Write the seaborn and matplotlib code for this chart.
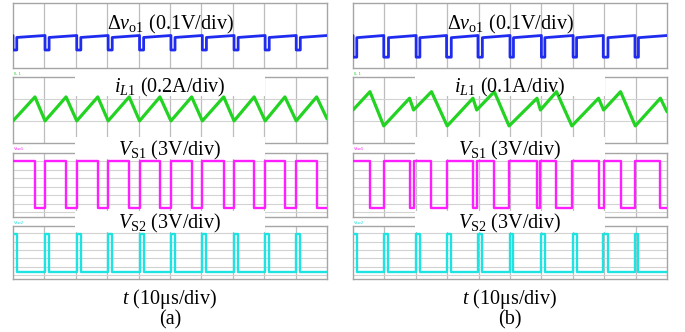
import numpy as np
import pandas as pd
import matplotlib
matplotlib.use("Agg")
import matplotlib.pyplot as plt
import seaborn as sns
from matplotlib.patches import Rectangle

sns.set_theme(style="white")
plt.rcParams['font.family'] = ['Liberation Serif', 'DejaVu Serif']
plt.rcParams['mathtext.fontset'] = 'custom'
plt.rcParams['mathtext.rm'] = 'Liberation Serif'
plt.rcParams['mathtext.it'] = 'Liberation Serif:italic'
plt.rcParams['mathtext.bf'] = 'Liberation Serif:bold'

# ---------------- data (time in us, amplitudes in screen divisions) ----------------
panels = ["(a)", "(b)"]
il1_scale = ["0.2A/div", "0.1A/div"]

# switch S1 voltage edges (starts high)
s1_fall_a = [7.0, 16.9, 27.0, 37.0, 46.8, 56.9, 67.1, 76.8, 86.6, 96.7]
s1_rise_a = [10.2, 20.3, 30.3, 40.3, 50.3, 60.3, 70.4, 80.3, 90.2]
s1_fall_b = [5.4, 18.0, 25.0, 38.2, 45.0, 58.6, 64.8, 78.2, 85.2, 97.9]
s1_rise_b = [9.8, 19.3, 30.0, 39.4, 49.7, 59.7, 69.7, 79.8, 89.9]
s1_levels = [6.47, 1.02]          # high, low

# switch S2 voltage edges (starts high)
s2_fall_a = [1.2, 11.5, 21.6, 31.6, 41.6, 51.6, 61.6, 71.7, 81.6, 91.5]
s2_rise_a = [10.2, 20.3, 30.3, 40.3, 50.3, 60.3, 70.4, 80.3, 90.2]
s2_fall_b = [1.2, 11.3, 21.3, 31.3, 41.2, 51.1, 61.1, 71.2, 81.2, 90.9]
s2_rise_b = [9.8, 20.1, 29.8, 39.8, 50.0, 60.0, 70.1, 79.7, 89.8]
s2_levels = [5.44, 0.91]

# inductor current turning points (t=0, each S1 edge, t=100)
il1_vals_a = [1.0, 2.1, 1.0, 2.1, 1.0, 2.1, 1.0, 2.1, 1.0, 2.1, 1.0,
              2.1, 1.0, 2.1, 1.0, 2.1, 1.0, 2.1, 1.0, 2.1, 1.1]
il1_vals_b = [1.50, 2.34, 0.77, 2.04, 1.50, 2.34, 0.77, 2.04, 1.50, 2.34, 0.77,
              2.04, 1.50, 2.34, 0.77, 2.04, 1.50, 2.34, 0.77, 2.04, 1.42]

# output voltage ripple levels: top, after-dip, dip bottom
vo1_levels_a = [1.50, 1.41, 0.83]
vo1_levels_b = [1.50, 1.40, 0.50]

W, H = 685, 332
fig = plt.figure(figsize=(W / 100, H / 100), dpi=100)
fig.patch.set_facecolor("white")


def ax_px(x0, y0, x1, y1):
    return fig.add_axes([x0 / W, 1 - y1 / H, (x1 - x0) / W, (y1 - y0) / H])


def square(falls, rises, hi, lo):
    edges = sorted([(t, lo) for t in falls] + [(t, hi) for t in rises])
    ts, vs, lev = [0.0], [hi], hi
    for t, new in edges:
        ts += [t, t]
        vs += [lev, new]
        lev = new
    ts.append(100.0)
    vs.append(lev)
    return ts, vs


def ripple(falls, rises, levels):
    top, after, dip = levels
    ts, vs = [0.0, 0.0], [top, dip]
    for i, f in enumerate(falls):
        ts += [f, f]
        vs += [dip, after]
        if i < len(rises):
            r = rises[i]
            ts += [r, r]
            vs += [top, dip]
    ts.append(100.0)
    vs.append(top)
    return ts, vs


def style(ax, ylim, hgrid):
    ax.set_xlim(0, 100)
    ax.set_ylim(*ylim)
    for x in range(10, 100, 10):
        ax.axvline(x, color="#bdbdbd", lw=0.9, zorder=0)
    for y in hgrid:
        ax.axhline(y, color="#d2d2d2", lw=0.8, zorder=0)
    ax.set_xticks([])
    ax.set_yticks([])
    ax.set_xlabel("")
    ax.set_ylabel("")
    for s in ax.spines.values():
        s.set_color("#a5a5a5")
        s.set_linewidth(1.0)
        s.set_zorder(0.6)
    ax.set_facecolor("white")


BOXES = [(71, 96), (137, 159), (211, 232)]


def add_boxes(ax, cx, ay0, ay1):
    for yb0, yb1 in BOXES:
        lo = max(yb0, ay0 - 2.5)
        hi = min(yb1, ay1 + 2.5)
        if lo < hi:
            ax.add_patch(Rectangle(((cx - 95) / W, 1 - hi / H), 190 / W, (hi - lo) / H,
                                   transform=fig.transFigure, facecolor="white",
                                   edgecolor="none", zorder=1, clip_on=False))


strips = [(3, 68), (77.3, 142.7), (152.7, 216.7), (226, 279.3)]
xs = [(13, 327), (353, 667)]

data = [
    dict(s1f=s1_fall_a, s1r=s1_rise_a, s2f=s2_fall_a, s2r=s2_rise_a,
         il=il1_vals_a, vo=vo1_levels_a),
    dict(s1f=s1_fall_b, s1r=s1_rise_b, s2f=s2_fall_b, s2r=s2_rise_b,
         il=il1_vals_b, vo=vo1_levels_b),
]

for p in range(2):
    x0, x1 = xs[p]
    d = data[p]
    cx = (x0 + x1) / 2

    # strip 1: output voltage ripple
    ax = ax_px(x0, strips[0][0], x1, strips[0][1])
    style(ax, (0, 3), [])
    t, v = ripple(d["s2f"], d["s2r"], d["vo"])
    sns.lineplot(x=t, y=v, ax=ax, color="#1f2cf0", lw=2.0, sort=False, estimator=None, zorder=3)

    # strip 2: inductor current
    ax = ax_px(x0, strips[1][0], x1, strips[1][1])
    style(ax, (0, 3), [1, 2])
    add_boxes(ax, cx, *strips[1])
    tt = [0.0] + sorted(d["s1f"] + d["s1r"]) + [100.0]
    sns.lineplot(x=tt, y=d["il"], ax=ax, color="#22d322", lw=2.3, sort=False, estimator=None, zorder=3)

    # strip 3: VS1
    ax = ax_px(x0, strips[2][0], x1, strips[2][1])
    style(ax, (0, 7.5), [0.5, 1.5, 2.5, 3.5, 4.5, 5.5, 6.5])
    add_boxes(ax, cx, *strips[2])
    t, v = square(d["s1f"], d["s1r"], *s1_levels)
    sns.lineplot(x=t, y=v, ax=ax, color="#ff1eff", lw=1.7, sort=False, estimator=None, zorder=3)

    # strip 4: VS2
    ax = ax_px(x0, strips[3][0], x1, strips[3][1])
    style(ax, (0, 6.4), [0.5, 1.5, 2.5, 3.5, 4.5, 5.5])
    add_boxes(ax, cx, *strips[3])
    t, v = square(d["s2f"], d["s2r"], *s2_levels)
    sns.lineplot(x=t, y=v, ax=ax, color="#1ee3e3", lw=1.7, sort=False, estimator=None, zorder=3)

    # tiny scope channel tags
    fig.text((x0 + 1) / W, 1 - 74 / H, "IL 1", fontsize=2.8, color="#22d322",
             family="DejaVu Sans", va="center", zorder=4)
    fig.text((x0 + 1) / W, 1 - 148.5 / H, "Vsw1", fontsize=2.8, color="#ff1eff",
             family="DejaVu Sans", va="center", zorder=4)
    fig.text((x0 + 1) / W, 1 - 222.5 / H, "Vsw2", fontsize=2.8, color="#1ee3e3",
             family="DejaVu Sans", va="center", zorder=4)

    fs = 14.5
    fig.text(cx / W, 1 - 29.5 / H, r"$\Delta v_{\rm o1}$ (0.1V/div)", fontsize=fs,
             ha="center", va="baseline", color="black", zorder=5)
    fig.text(cx / W, 1 - 92.7 / H, r"$i_{L1}$ (" + il1_scale[p] + ")", fontsize=fs,
             ha="center", va="baseline", color="black", zorder=5)
    fig.text(cx / W, 1 - 155 / H, r"$V_{\rm S1}$ (3V/div)", fontsize=fs,
             ha="center", va="baseline", color="black", zorder=5)
    fig.text(cx / W, 1 - 228.3 / H, r"$V_{\rm S2}$ (3V/div)", fontsize=fs,
             ha="center", va="baseline", color="black", zorder=5)
    fig.text(cx / W, 1 - 304 / H, r"$t$ (10μs/div)", fontsize=fs,
             ha="center", va="baseline", color="black", zorder=5)
    fig.text(cx / W, 1 - 324 / H, panels[p], fontsize=fs,
             ha="center", va="baseline", color="black", zorder=5)

fig.savefig("out.png", dpi=100, facecolor="white")
